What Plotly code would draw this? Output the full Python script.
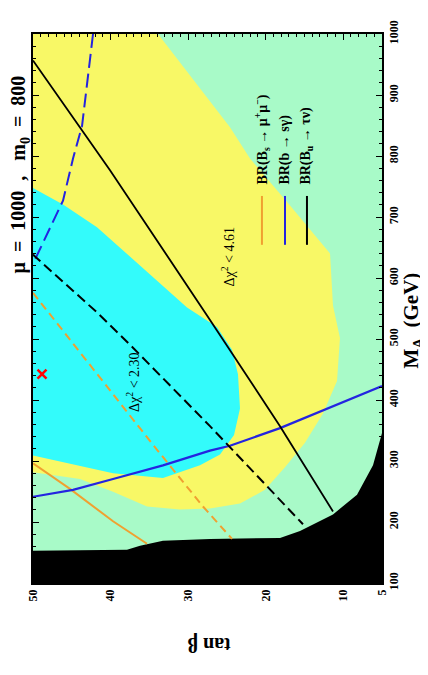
import plotly.graph_objects as go

# ---- data (x = tan beta, y = M_A [GeV]) ----
yellow_tb = [50, 33.88, 24.60, 22.02, 16.86, 11.70, 11.32, 10.42, 10.80, 12.61, 14.93, 17.51,
             20.09, 23.31, 27.18, 31.05, 35.30, 39.68, 43.94, 50]
yellow_ma = [1000, 1000, 847.3, 795.9, 718.7, 640.0, 554.8, 501.8, 431.1, 378.0, 329.8, 289.6,
             252.7, 230.2, 222.1, 220.5, 225.4, 249.5, 270.4, 281.6]

cyan_tb = [50, 46.13, 41.75, 37.49, 33.24, 30.14, 26.28, 24.34, 23.57, 23.31, 24.08, 25.89,
           28.47, 33.24, 39.68, 46.13, 50]
cyan_ma = [747.7, 720.4, 683.4, 635.2, 587.0, 551.6, 519.5, 482.5, 442.3, 386.1, 342.7, 310.5,
           292.9, 272.0, 280.0, 297.7, 308.9]

excl_tb = [50, 37.88, 36.20, 33.24, 27.18, 18.15, 15.57, 11.32, 8.22, 6.16, 5.0, 5.0, 50]
excl_ma = [153.0, 154.6, 161.1, 169.1, 172.3, 173.9, 185.2, 212.5, 244.6, 292.9, 345.9, 100, 100]

bsg_tb = [50, 44.84, 39.68, 33.24, 27.18, 24.60, 18.15, 11.70, 5.0]
bsg_ma = [241.4, 252.7, 270.4, 292.9, 317.0, 325.0, 353.9, 387.7, 423.0]

bsg_d_tb = [42.26, 43.68, 44.84, 46.13, 49.74, 50]
bsg_d_ma = [1000, 848.9, 795.9, 726.8, 630.4, 625.5]

btn_tb = [50, 43.94, 40.07, 27.56, 18.15, 11.32]
btn_ma = [956.6, 847.3, 776.6, 538.7, 357.1, 217.3]

btn_d_tb = [50, 49.74, 41.75, 37.11, 27.18, 15.19]
btn_d_ma = [638.4, 635.2, 543.6, 485.7, 357.1, 196.4]

bsmm_tb = [50, 45.23, 39.68, 35.30]
bsmm_ma = [296.1, 254.3, 201.2, 164.3]

bsmm_d_tb = [50, 48.71, 34.53, 28.08, 24.34]
bsmm_d_ma = [575.7, 554.8, 326.6, 225.4, 172.3]

best_tb = [48.84]
best_ma = [442.3]

tb_ticks = [5, 10, 20, 30, 40, 50]
ma_ticks = [100, 200, 300, 400, 500, 600, 700, 800, 900, 1000]

legend_labels = ["BR(B<sub>s</sub> → μ<sup>+</sup>μ<sup>−</sup>)", "BR(b → sγ)", "BR(B<sub>u</sub> → τν)"]

# ---- style ----
GREEN = "#a8fac8"
YELLOW = "#f8f866"
CYAN = "#33fbfb"
ORANGE = "#f0a030"
BLUE = "#2424e0"
SERIF = "Liberation Serif"

fig = go.Figure()


def area(x, y, color):
    fig.add_trace(go.Scatter(x=x, y=y, mode="lines", fill="toself", fillcolor=color,
                             line=dict(width=0, color=color), hoverinfo="skip", showlegend=False))


def line(x, y, color, width=2, dash="solid"):
    fig.add_trace(go.Scatter(x=x, y=y, mode="lines", line=dict(color=color, width=width, dash=dash),
                             hoverinfo="skip", showlegend=False))


area(yellow_tb, yellow_ma, YELLOW)
area(cyan_tb, cyan_ma, CYAN)
area(excl_tb, excl_ma, "black")

line(bsmm_tb, bsmm_ma, ORANGE, 2)
line(bsmm_d_tb, bsmm_d_ma, ORANGE, 2, "8px,5px")
line(bsg_tb, bsg_ma, BLUE, 2.2)
line(bsg_d_tb, bsg_d_ma, BLUE, 2, "14px,6px")
line(btn_tb, btn_ma, "black", 1.8)
line(btn_d_tb, btn_d_ma, "black", 2, "10px,5px")

fig.add_trace(go.Scatter(x=best_tb, y=best_ma, mode="markers",
                         marker=dict(symbol="x-thin", size=9, line=dict(color="red", width=2.5)),
                         hoverinfo="skip", showlegend=False))

tickfont = dict(family=SERIF, size=12, color="black", weight="bold")

fig.update_xaxes(range=[50, 5], tickvals=tb_ticks, ticktext=[str(v) for v in tb_ticks],
                 tickangle=-90, ticks="inside", ticklen=6, tickwidth=1, tickcolor="black",
                 minor=dict(dtick=1, tick0=0, ticks="inside", ticklen=3, tickcolor="black"),
                 showline=True, linecolor="black", linewidth=1.5, mirror="ticks",
                 showgrid=False, zeroline=False, tickfont=tickfont)
fig.update_yaxes(range=[100, 1000], side="right", tickvals=ma_ticks,
                 ticktext=[str(v) for v in ma_ticks], tickangle=-90,
                 ticks="inside", ticklen=6, tickwidth=1, tickcolor="black",
                 minor=dict(dtick=20, tick0=0, ticks="inside", ticklen=3, tickcolor="black"),
                 showline=True, linecolor="black", linewidth=1.5, mirror="ticks",
                 showgrid=False, zeroline=False, tickfont=tickfont)

ann = []
ann.append(dict(x=-0.036, y=0.745, xref="paper", yref="paper", textangle=-90, showarrow=False,
                xanchor="center", yanchor="middle",
                text="<b>μ&nbsp;&nbsp;=&nbsp;&nbsp;1000&nbsp;&nbsp;,&nbsp;&nbsp;&nbsp;m<sub>0</sub>&nbsp;&nbsp;=&nbsp;&nbsp;800</b>",
                font=dict(family=SERIF, size=20, color="black")))
ann.append(dict(x=1.087, y=0.479, xref="paper", yref="paper", textangle=-90, showarrow=False,
                xanchor="center", yanchor="middle",
                text="<b>M<sub>A</sub>&nbsp;&nbsp;(GeV)</b>", font=dict(family=SERIF, size=21, color="black")))
ann.append(dict(x=0.504, y=-0.111, xref="paper", yref="paper", textangle=180, showarrow=False,
                xanchor="center", yanchor="middle",
                text="<b>tan β</b>", font=dict(family=SERIF, size=20, color="black")))
ann.append(dict(x=24.86, y=635.2, xref="x", yref="y", textangle=-90, showarrow=False,
                xanchor="center", yanchor="middle",
                text="Δχ<sup>2</sup> < 4.61", font=dict(family=SERIF, size=14, color="black")))
ann.append(dict(x=37.11, y=429.5, xref="x", yref="y", textangle=-90, showarrow=False,
                xanchor="center", yanchor="middle",
                text="Δχ<sup>2</sup> < 2.30", font=dict(family=SERIF, size=14, color="black")))

leg_x = [0.656, 0.722, 0.785]
leg_col = [ORANGE, BLUE, "black"]
shapes = []
for lx, lab, col in zip(leg_x, legend_labels, leg_col):
    ann.append(dict(x=lx, y=0.722, xref="paper", yref="paper", textangle=-90, showarrow=False,
                    xanchor="center", yanchor="bottom", text="<b>" + lab + "</b>",
                    font=dict(family=SERIF, size=14, color="black")))
    shapes.append(dict(type="line", xref="paper", yref="paper", x0=lx, x1=lx, y0=0.616, y1=0.705,
                       line=dict(color=col, width=2)))

# the page body adds an 8px offset, so the margins compensate for it
fig.update_layout(width=420, height=667, margin=dict(l=25, r=46, t=15, b=92),
                  plot_bgcolor=GREEN, paper_bgcolor="white", showlegend=False,
                  annotations=ann, shapes=shapes)

fig.write_html("out.html")
